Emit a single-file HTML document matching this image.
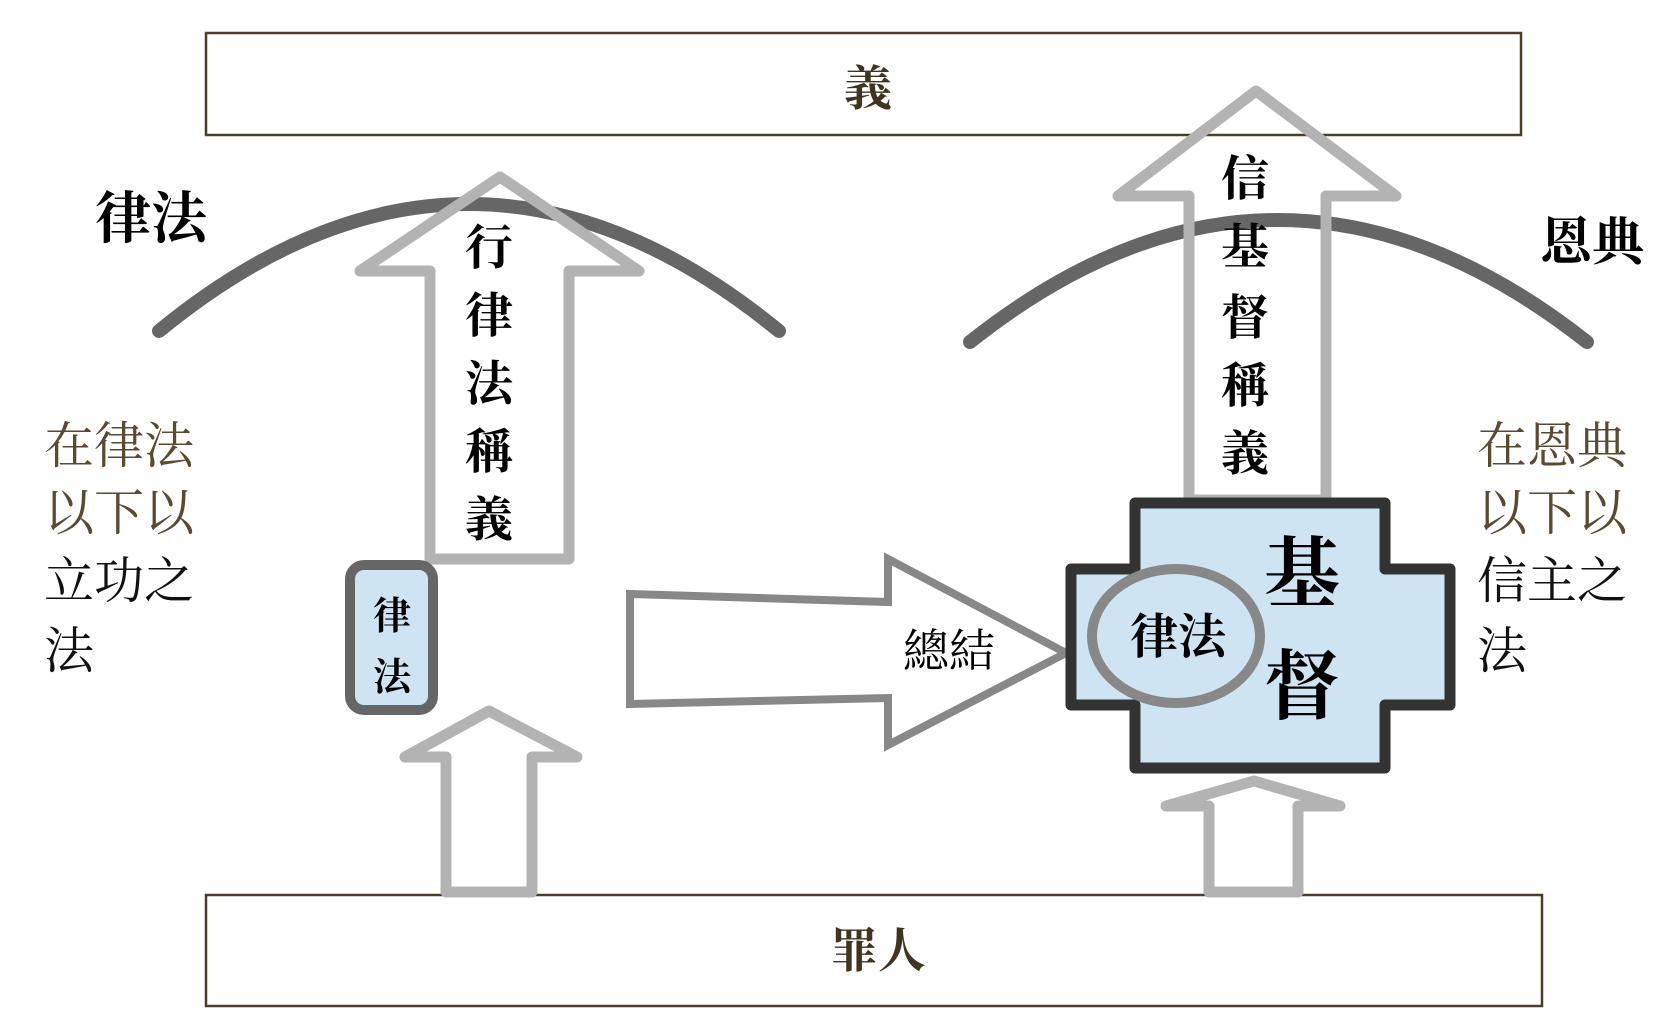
<!DOCTYPE html>
<html><head><meta charset="utf-8"><style>
html,body{margin:0;padding:0;background:#fff;}
svg{display:block;}
text{font-family:"Liberation Serif","Noto Serif CJK SC","Noto Sans CJK TC",serif;}
</style></head><body>
<svg width="1676" height="1027" viewBox="0 0 1676 1027" xmlns="http://www.w3.org/2000/svg">
<rect x="0" y="0" width="1676" height="1027" fill="#fff"/>
<rect x="206" y="33" width="1315" height="102" fill="#fff" stroke="#4a3f2a" stroke-width="2.5"/>
<text x="868" y="105" font-size="48" fill="#3f3420" text-anchor="middle" font-weight="bold">義</text>
<rect x="206" y="895" width="1336" height="111" fill="#fff" stroke="#4a3f2a" stroke-width="2.5"/>
<text x="878" y="967" font-size="48" fill="#3f3420" text-anchor="middle" font-weight="bold">罪人</text>

<path d="M159,331 Q469,77 779,331" fill="none" stroke="#666" stroke-width="14" stroke-linecap="round"/>
<path d="M970,342 Q1277,98 1587,342" fill="none" stroke="#666" stroke-width="14" stroke-linecap="round"/>

<text x="95" y="238" font-size="56" font-weight="bold" fill="#000">律法</text>
<text x="1540" y="260" font-size="52" font-weight="bold" fill="#000">恩典</text>

<path d="M500,177 L639,271 L569,271 L569,559 L430,559 L430,271 L360,271 Z" fill="none" stroke="#b3b3b3" stroke-width="11" stroke-linejoin="round"/>
<g font-size="48" font-weight="bold" fill="#000" text-anchor="middle">
<text x="489" y="264">行</text><text x="489" y="332">律</text><text x="489" y="400">法</text><text x="489" y="468">稱</text><text x="489" y="536">義</text>
</g>

<path d="M1256,91 L1396,196 L1326,196 L1326,500 L1189,500 L1189,196 L1118,196 Z" fill="none" stroke="#b3b3b3" stroke-width="11" stroke-linejoin="round"/>
<g font-size="48" font-weight="bold" fill="#000" text-anchor="middle">
<text x="1245" y="195">信</text><text x="1245" y="263">基</text><text x="1245" y="334">督</text><text x="1245" y="402">稱</text><text x="1245" y="470">義</text>
</g>

<rect x="350" y="565" width="83" height="145" rx="14" fill="#cfe4f3" stroke="#666" stroke-width="10"/>
<text x="392" y="629" font-size="38" fill="#000" text-anchor="middle" font-weight="bold">律</text>
<text x="392" y="690" font-size="38" fill="#000" text-anchor="middle" font-weight="bold">法</text>

<path d="M489,711 L577,757 L532,757 L532,892 L446,892 L446,757 L405,757 Z" fill="none" stroke="#b3b3b3" stroke-width="11" stroke-linejoin="round"/>

<path d="M630,594 L888,602 L888,559 L1066,653 L888,745 L888,698 L630,704 Z" fill="none" stroke="#888" stroke-width="8"/>
<text x="949" y="667" font-size="46" fill="#000" text-anchor="middle">總結</text>

<path d="M1135,503 L1385,503 L1385,569 L1450,569 L1450,705 L1385,705 L1385,768 L1135,768 L1135,705 L1071,705 L1071,569 L1135,569 Z" fill="#cfe4f3" stroke="#333" stroke-width="11" stroke-linejoin="round"/>
<ellipse cx="1176" cy="636" rx="84" ry="67" fill="none" stroke="#888" stroke-width="10"/>
<text x="1178" y="653" font-size="48" font-weight="bold" fill="#000" text-anchor="middle">律法</text>
<text x="1302" y="600" font-size="76" font-weight="bold" fill="#000" text-anchor="middle">基</text>
<text x="1302" y="713" font-size="76" font-weight="bold" fill="#000" text-anchor="middle">督</text>

<path d="M1254,781 L1340,806 L1298,806 L1298,892 L1209,892 L1209,806 L1166,806 Z" fill="none" stroke="#b3b3b3" stroke-width="11" stroke-linejoin="round"/>

<g font-size="50" fill="#000">
<text x="44" y="463" fill="#5a4a30">在律法</text>
<text x="44" y="530" fill="#5a4a30">以下以</text>
<text x="44" y="598" fill="#111">立功之</text>
<text x="44" y="668" fill="#111">法</text>
<text x="1477" y="463" fill="#5a4a30">在恩典</text>
<text x="1477" y="530" fill="#5a4a30">以下以</text>
<text x="1477" y="598" fill="#111">信主之</text>
<text x="1477" y="668" fill="#111">法</text>
</g>
</svg>
</body></html>
